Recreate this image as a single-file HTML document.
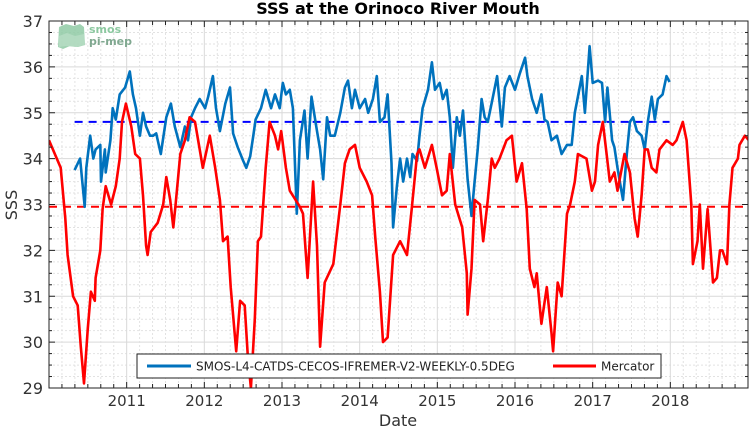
<!DOCTYPE html>
<html><head><meta charset="utf-8"><style>
html,body{margin:0;padding:0;background:#fff;}
svg{display:block;font-family:"DejaVu Sans","Liberation Sans",sans-serif;}
</style></head><body>
<svg id="chart" width="750" height="432" viewBox="0 0 750 432">
<defs><clipPath id="clip"><rect x="49" y="21" width="699" height="367"/></clipPath></defs>
<rect x="0" y="0" width="750" height="432" fill="#fff"/>
<g id="grid"></g>
<g id="logo">
  <path d="M59 27 L66 24 L74 26 L80 24 L84 27 L85 45 L78 47 L70 46 L63 49 L58 47 Z" fill="#8fcaa4" opacity="0.85"/>
  <path d="M59 36 L67 33 L75 36 L84 34 L85 45 L76 47 L66 46 L59 47 Z" fill="#b5dcc2" opacity="0.9"/>
  <text x="89" y="33" font-size="11" font-weight="bold" fill="#8cc8a0">smos</text>
  <text x="89" y="45" font-size="11" font-weight="bold" fill="#80a890">pi-mep</text>
</g>
<g id="series" clip-path="url(#clip)"></g>
<g id="axes"></g>
<text x="398" y="14" text-anchor="middle" font-size="16" font-weight="bold" fill="#000">SSS at the Orinoco River Mouth</text>
<text x="398" y="426" text-anchor="middle" font-size="16" fill="#333">Date</text>
<text transform="translate(17,205) rotate(-90)" text-anchor="middle" font-size="16" fill="#333">SSS</text>
<g>
  <rect x="137" y="354" width="524" height="24" fill="#fff" stroke="#222" stroke-width="1"/>
  <g>
    <line x1="147" y1="366" x2="191" y2="366" stroke="#0072bd" stroke-width="3"/>
    <text x="196" y="370.5" font-size="12" fill="#222">SMOS-L4-CATDS-CECOS-IFREMER-V2-WEEKLY-0.5DEG</text>
  </g>
  <g>
    <line x1="553" y1="366" x2="596" y2="366" stroke="#ff0000" stroke-width="3"/>
    <text x="601" y="370.5" font-size="12" fill="#222">Mercator</text>
  </g>
</g>
</svg>
<script>
const yTicks = [29,30,31,32,33,34,35,36,37];
const xTickYears = [2011,2012,2013,2014,2015,2016,2017,2018];
const smosMean = 34.8;
const mercMean = 32.95;
const mercDates = [2010.00,2010.15,2010.21,2010.24,2010.31,2010.37,2010.41,2010.45,2010.50,2010.54,2010.59,2010.60,2010.66,2010.69,2010.73,2010.80,2010.86,2010.91,2010.94,2010.99,2011.06,2011.11,2011.17,2011.21,2011.25,2011.27,2011.31,2011.40,2011.47,2011.51,2011.56,2011.60,2011.63,2011.69,2011.75,2011.81,2011.88,2011.94,2011.98,2012.07,2012.14,2012.20,2012.24,2012.30,2012.34,2012.41,2012.46,2012.52,2012.56,2012.60,2012.65,2012.69,2012.73,2012.79,2012.84,2012.91,2012.95,2012.99,2013.05,2013.10,2013.23,2013.27,2013.33,2013.40,2013.45,2013.49,2013.55,2013.66,2013.75,2013.81,2013.87,2013.94,2014.00,2014.09,2014.16,2014.20,2014.26,2014.30,2014.36,2014.43,2014.52,2014.61,2014.67,2014.74,2014.77,2014.84,2014.93,2014.99,2015.06,2015.12,2015.16,2015.23,2015.32,2015.38,2015.39,2015.44,2015.48,2015.55,2015.59,2015.65,2015.70,2015.74,2015.80,2015.89,2015.96,2016.02,2016.09,2016.15,2016.19,2016.25,2016.28,2016.34,2016.41,2016.47,2016.49,2016.55,2016.60,2016.67,2016.71,2016.77,2016.81,2016.92,2016.99,2017.03,2017.07,2017.13,2017.18,2017.22,2017.28,2017.32,2017.41,2017.48,2017.54,2017.58,2017.63,2017.67,2017.71,2017.76,2017.82,2017.86,2017.95,2018.03,2018.08,2018.16,2018.21,2018.27,2018.29,2018.35,2018.38,2018.42,2018.48,2018.55,2018.60,2018.64,2018.67,2018.73,2018.76,2018.80,2018.87,2018.89,2018.96,2019.01];
const mercValues = [34.4,33.8,32.7,31.9,31.0,30.8,29.9,29.1,30.3,31.1,30.9,31.4,32.0,32.9,33.4,33.0,33.4,34.0,34.8,35.2,34.7,34.1,34.0,33.2,32.1,31.9,32.4,32.6,33.0,33.6,33.1,32.5,33.0,34.1,34.4,34.9,34.8,34.2,33.8,34.5,33.8,33.1,32.2,32.3,31.2,29.8,30.9,30.8,29.7,29.0,30.5,32.2,32.3,33.8,34.8,34.5,34.2,34.6,33.8,33.3,32.95,32.8,31.4,33.5,32.1,29.9,31.3,31.7,33.0,33.9,34.2,34.3,33.8,33.5,33.2,32.3,31.1,30.0,30.1,31.9,32.2,31.9,32.9,34.1,34.2,33.8,34.3,33.8,33.2,33.3,34.1,33.0,32.5,31.5,30.6,31.6,33.1,33.0,32.2,33.1,34.0,33.8,34.0,34.4,34.5,33.5,33.9,32.9,31.6,31.2,31.5,30.4,31.2,30.2,29.8,31.3,31.0,32.8,33.0,33.5,34.1,34.0,33.3,33.5,34.3,34.8,34.1,33.5,33.7,33.3,34.1,33.7,32.7,32.3,33.2,34.2,34.2,33.8,33.7,34.2,34.4,34.3,34.4,34.8,34.4,33.0,31.7,32.2,33.0,31.6,32.9,31.3,31.4,32.0,32.0,31.7,33.0,33.8,34.0,34.3,34.5,34.4];
const smosDates = [2010.33,2010.40,2010.46,2010.48,2010.53,2010.57,2010.60,2010.66,2010.67,2010.72,2010.73,2010.79,2010.82,2010.86,2010.91,2010.98,2011.04,2011.08,2011.12,2011.17,2011.21,2011.25,2011.30,2011.34,2011.38,2011.44,2011.51,2011.57,2011.62,2011.69,2011.75,2011.79,2011.83,2011.88,2011.94,2012.01,2012.05,2012.11,2012.15,2012.20,2012.27,2012.33,2012.37,2012.43,2012.50,2012.54,2012.59,2012.63,2012.66,2012.73,2012.79,2012.86,2012.91,2012.97,2013.01,2013.05,2013.10,2013.14,2013.19,2013.23,2013.29,2013.33,2013.38,2013.45,2013.49,2013.53,2013.58,2013.62,2013.68,2013.75,2013.81,2013.85,2013.90,2013.94,2014.00,2014.07,2014.11,2014.17,2014.22,2014.26,2014.32,2014.36,2014.41,2014.43,2014.48,2014.52,2014.56,2014.61,2014.65,2014.68,2014.74,2014.77,2014.81,2014.88,2014.93,2014.97,2015.03,2015.07,2015.12,2015.16,2015.20,2015.25,2015.29,2015.33,2015.39,2015.44,2015.48,2015.52,2015.57,2015.61,2015.65,2015.71,2015.77,2015.83,2015.87,2015.93,2016.00,2016.06,2016.13,2016.16,2016.22,2016.28,2016.34,2016.38,2016.42,2016.47,2016.54,2016.60,2016.67,2016.73,2016.77,2016.81,2016.86,2016.90,2016.96,2017.00,2017.07,2017.12,2017.16,2017.19,2017.25,2017.28,2017.32,2017.35,2017.39,2017.44,2017.48,2017.52,2017.57,2017.63,2017.67,2017.71,2017.76,2017.80,2017.84,2017.90,2017.95,2017.99];
const smosValues = [33.75,34.0,32.95,33.8,34.5,34.0,34.2,34.3,33.5,34.2,33.7,34.4,35.1,34.85,35.4,35.55,35.9,35.4,35.1,34.5,35.0,34.7,34.5,34.5,34.55,34.1,34.9,35.2,34.7,34.25,34.7,34.4,34.9,35.1,35.3,35.1,35.35,35.8,35.1,34.6,35.2,35.55,34.55,34.25,33.95,33.8,34.05,34.5,34.85,35.1,35.5,35.1,35.4,35.1,35.65,35.4,35.5,35.1,32.8,34.4,35.05,34.0,35.35,34.6,34.2,33.55,34.9,34.5,34.5,35.0,35.55,35.7,35.1,35.5,35.1,35.3,35.0,35.3,35.8,34.8,34.9,35.4,33.9,32.5,33.4,34.0,33.5,34.0,33.6,34.1,33.95,34.5,35.1,35.5,36.1,35.5,35.65,35.3,35.5,34.9,33.8,34.9,34.5,35.05,33.55,32.75,33.5,34.2,35.3,34.9,34.8,35.3,35.8,34.7,35.55,35.8,35.5,35.85,36.2,35.8,35.3,35.0,35.4,34.85,34.8,34.4,34.5,34.1,34.3,34.3,35.0,35.35,35.8,35.0,36.45,35.65,35.7,35.65,34.8,35.55,34.4,34.25,33.8,33.5,33.1,34.1,34.8,34.9,34.6,34.5,34.2,34.8,35.35,34.85,35.3,35.4,35.8,35.67];

const X0=49, X1=748, Y0=21, Y1=388;
const xMin=2010, xMax=2019, yMin=29, yMax=37;
function xs(t){return X0+(t-xMin)/(xMax-xMin)*(X1-X0);}
function ys(v){return Y1-(v-yMin)/(yMax-yMin)*(Y1-Y0);}
const NS="http://www.w3.org/2000/svg";
function mk(tag,attrs,parent){const e=document.createElementNS(NS,tag);for(const k in attrs)e.setAttribute(k,attrs[k]);parent.appendChild(e);return e;}
const grid=document.getElementById('grid'), axes=document.getElementById('axes'), series=document.getElementById('series');

// minor grid
for(let v=yMin;v<=yMax;v+=0.25){
  const y=ys(v), major=Math.abs(v-Math.round(v))<1e-6;
  const l=mk('line',{x1:X0,x2:X1,y1:y,y2:y,stroke:major?'#d9d9d9':'#e2e2e2','stroke-width':1,'stroke-dasharray':major?'':'2,2'},grid);
  
  
  mk('line',{x1:X0,x2:X0+(major?6:3),y1:y,y2:y,stroke:'#222','stroke-width':1},axes);
  mk('line',{x1:X1,x2:X1-(major?6:3),y1:y,y2:y,stroke:'#222','stroke-width':1},axes);
}
for(let k=0;k<=54;k++){
  const t=xMin+k/6, x=xs(t), major=k%6===0;
  const l=mk('line',{x1:x,x2:x,y1:Y0,y2:Y1,stroke:major?'#d9d9d9':'#e2e2e2','stroke-width':1,'stroke-dasharray':major?'':'2,2'},grid);
  
  
  mk('line',{x1:x,x2:x,y1:Y1,y2:Y1-(major?6:4),stroke:'#222','stroke-width':1},axes);
  mk('line',{x1:x,x2:x,y1:Y0,y2:Y0+(major?6:4),stroke:'#222','stroke-width':1},axes);
}
const frame=mk('rect',{x:X0,y:Y0,width:X1-X0,height:Y1-Y0,fill:'none',stroke:'#222','stroke-width':1},axes);


yTicks.forEach(v=>{
  const t=mk('text',{x:X0-6,y:ys(v)+6,'text-anchor':'end','font-size':16,fill:'#333'},axes);
  t.textContent=v;
  
  
});
xTickYears.forEach(v=>{
  const t=mk('text',{x:xs(v),y:Y1+18,'text-anchor':'middle','font-size':15,fill:'#333'},axes);
  t.textContent=v;
  
  
});

// mean lines
const ml=mk('line',{x1:xs(smosDates[0]),x2:xs(smosDates[smosDates.length-1]),y1:ys(smosMean),y2:ys(smosMean),stroke:'#0000ff','stroke-width':2,'stroke-dasharray':'8,6'},series);


const rl=mk('line',{x1:X0,x2:X1,y1:ys(mercMean),y2:ys(mercMean),stroke:'#ff0000','stroke-width':2,'stroke-dasharray':'8,6'},series);



function path(d,v){return d.map((t,i)=>(i?'L':'M')+xs(t).toFixed(1)+' '+ys(v[i]).toFixed(1)).join(' ');}
const sp=mk('path',{d:path(smosDates,smosValues),fill:'none',stroke:'#0072bd','stroke-width':2.6,'stroke-linejoin':'round'},series);


const rp=mk('path',{d:path(mercDates,mercValues),fill:'none',stroke:'#ff0000','stroke-width':2.6,'stroke-linejoin':'round'},series);


</script>
</body></html>
